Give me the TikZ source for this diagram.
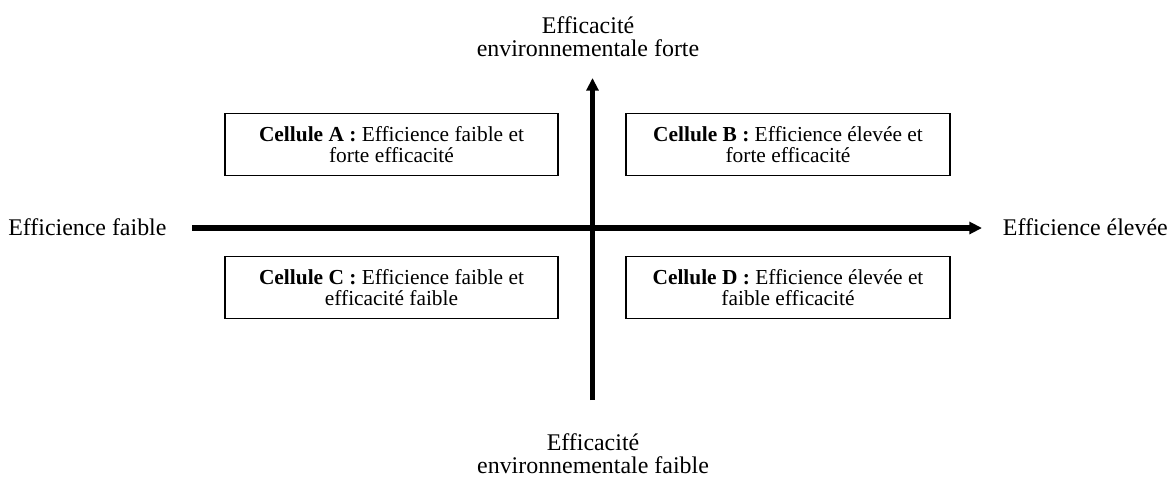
\documentclass[tikz,border=0pt]{standalone}
\usepackage{fontspec}
\setmainfont{Liberation Serif}
\usetikzlibrary{arrows.meta}

\begin{document}
\begin{tikzpicture}[
    x=0.025cm, y=-0.025cm,
    cell/.style = {rectangle, draw, line width=0.9pt, minimum width=8.3cm,
                  minimum height=1.55cm, align=center, inner sep=0pt,
                  font=\fontsize{15.2}{15.2}\selectfont},
    lab/.style = {align=center, inner sep=0pt, font=\fontsize{17}{16.5}\selectfont},
    axis/.style = {-{Triangle[length=9pt,width=8.5pt]}, line width=3.6pt}
]
\useasboundingbox (0,0) rectangle (1172,481);

% Axis labels
\node[lab, anchor=base west] (lf) at (8,235) {Efficience faible};
\node[lab, anchor=base east] (rt) at (1168,235) {Efficience élevée};
\node[lab, anchor=south] (top) at (588,57) {Efficacité\\environnementale forte};
\node[lab, anchor=north] (bot) at (593,433) {Efficacité\\environnementale faible};

% Axes
\coordinate (hs) at (192,228);
\coordinate (he) at (982,228);
\coordinate (vs) at (592.5,400);
\coordinate (ve) at (592.5,78);
\draw[axis] (hs) -- (he);
\draw[axis] (vs) -- (ve);

% Cells
\node[cell, minimum width=8.325cm] (cA) at (391.5,144.5)
    {\textbf{Cellule A :} Efficience faible et\\forte efficacité};
\node[cell, minimum width=8.1cm] (cB) at (788,144.5)
    {\textbf{Cellule B :} Efficience élevée et\\forte efficacité};
\node[cell, minimum width=8.325cm] (cC) at (391.5,287.5)
    {\textbf{Cellule C :} Efficience faible et\\efficacité faible};
\node[cell, minimum width=8.1cm] (cD) at (788,287.5)
    {\textbf{Cellule D :} Efficience élevée et\\faible efficacité};

\end{tikzpicture}
\end{document}
